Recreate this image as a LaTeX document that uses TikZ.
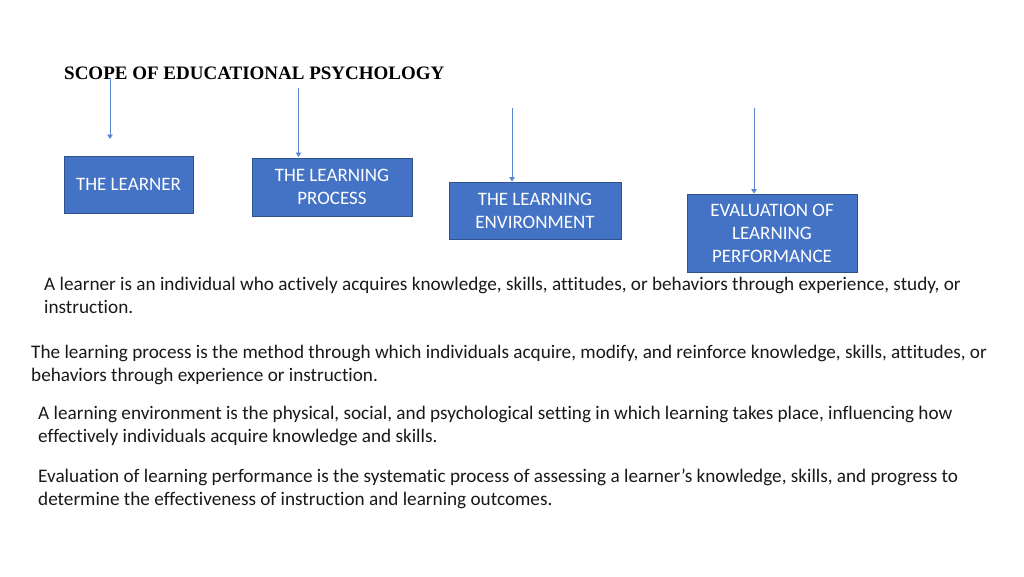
\documentclass[tikz,border=0pt]{standalone}
\usepackage{fontspec}
\setmainfont[Ligatures={NoCommon}]{Carlito}
\newfontfamily\titlefont{Liberation Serif}
\usetikzlibrary{arrows.meta}
\definecolor{boxfill}{RGB}{68,114,196}
\definecolor{boxline}{RGB}{47,82,143}
\definecolor{arrowcol}{RGB}{91,134,205}
\definecolor{txt}{RGB}{25,25,25}
\tikzset{
  topicbox/.style={draw=boxline, line width=0.9pt, fill=boxfill, text=white,
    align=center, inner sep=0pt, font=\fontsize{19}{23}\selectfont},
  feed/.style={draw=arrowcol, line width=0.8pt, -{Triangle[width=5.5pt,length=4.5pt]}},
  para/.style={anchor=base west, inner sep=0pt, text=txt, font=\fontsize{19.2}{23}\selectfont},
  heading/.style={anchor=base west, inner sep=0pt, font=\titlefont\bfseries\fontsize{19}{22}\selectfont}
}
\begin{document}
\begin{tikzpicture}[x=1pt,y=-1pt]
\useasboundingbox[fill=white] (0,0) rectangle (1024,576);

% heading
\node[heading] (title) at (64,79) {SCOPE OF EDUCATIONAL PSYCHOLOGY};

% boxes
\node[topicbox, minimum width=129pt, minimum height=57pt] (b1) at (128.5,184.5) {THE LEARNER};
\node[topicbox, minimum width=160pt, minimum height=58pt] (b2) at (332,187) {THE LEARNING\\PROCESS};
\node[topicbox, minimum width=172pt, minimum height=57pt] (b3) at (535,210.5) {THE LEARNING\\ENVIRONMENT};
\node[topicbox, minimum width=170pt, minimum height=78pt] (b4) at (772,233) {EVALUATION OF\\LEARNING\\PERFORMANCE};

% arrow start/end points
\coordinate (s1) at (110,78);
\coordinate (e1) at (110,139);
\coordinate (s2) at (298.5,88);
\coordinate (e2) at (298.5,157);
\coordinate (s3) at (512,108);
\coordinate (s4) at (754,108);

\draw[feed] (s1) -- (e1);
\draw[feed] (s2) -- (e2);
\draw[feed] (s3) -- (s3 |- b3.north);
\draw[feed] (s4) -- (s4 |- b4.north);

% paragraphs
\node[para] (p1a) at (44,290) {A learner is an individual who actively acquires knowledge, skills, attitudes, or behaviors through experience, study, or};
\node[para] (p1b) at (44,313) {instruction.};

\node[para] (p2a) at (31,358) {The learning process is the method through which individuals acquire, modify, and reinforce knowledge, skills, attitudes, or};
\node[para] (p2b) at (31,381) {behaviors through experience or instruction.};

\node[para] (p3a) at (38,419) {A learning environment is the physical, social, and psychological setting in which learning takes place, influencing how};
\node[para] (p3b) at (38,442) {effectively individuals acquire knowledge and skills.};

\node[para] (p4a) at (38,482) {Evaluation of learning performance is the systematic process of assessing a learner’s knowledge, skills, and progress to};
\node[para] (p4b) at (38,505) {determine the effectiveness of instruction and learning outcomes.};
\end{tikzpicture}
\end{document}
